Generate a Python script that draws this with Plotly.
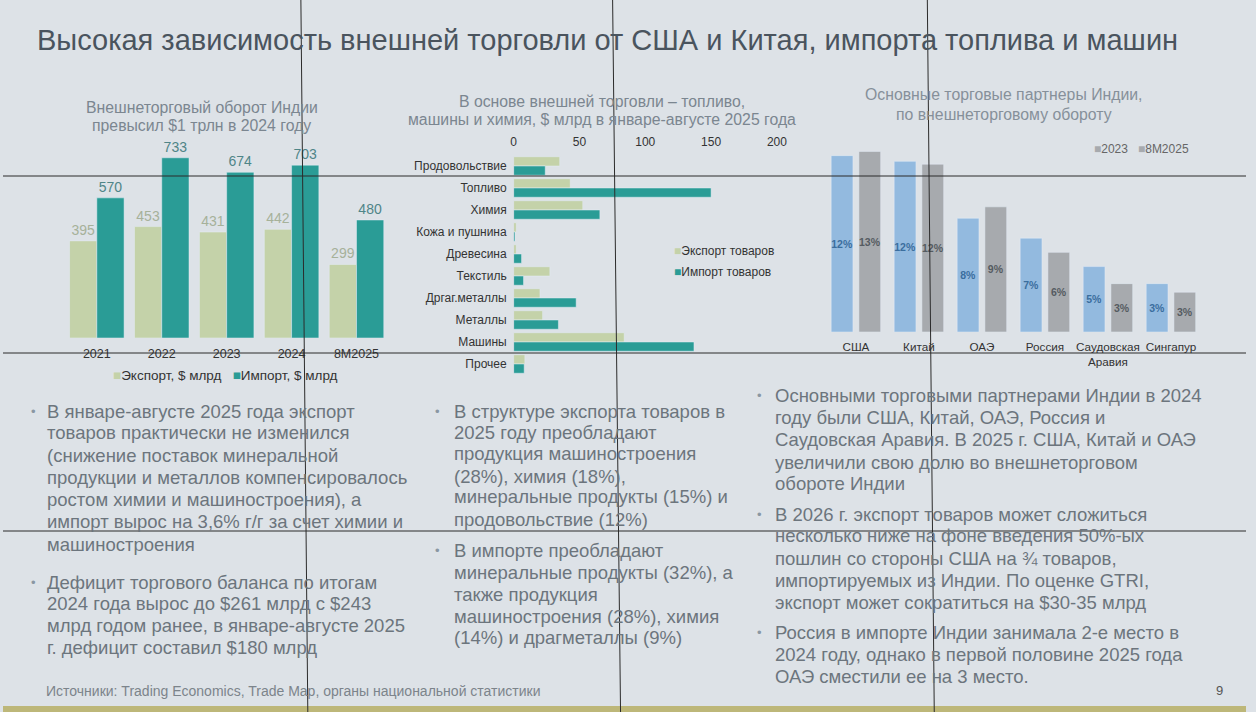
import plotly.graph_objects as go

W, H = 1256, 712

# ---------- data ----------
years = ["2021", "2022", "2023", "2024", "8M2025"]
export_total = [395, 453, 431, 442, 299]
import_total = [570, 733, 674, 703, 480]

goods = ["Продовольствие", "Топливо", "Химия", "Кожа и пушнина", "Древесина",
         "Текстиль", "Дргаг.металлы", "Металлы", "Машины", "Прочее"]
export_goods = [35, 43, 52.5, 2, 2, 27.5, 20, 22, 84, 8.5]
import_goods = [24, 150, 65.5, 1, 6, 7.5, 47.5, 34, 137, 8]

partners = ["США", "Китай", "ОАЭ", "Россия", "Саудовская<br>Аравия", "Сингапур"]
share_2023 = [12.4, 12.0, 8.0, 6.6, 4.6, 3.4]
share_8m2025 = [12.7, 11.8, 8.8, 5.6, 3.4, 2.8]

# ---------- helpers ----------
def X(p):
    return p / W

def Y(p):
    return 1 - p / H

FONT = "Liberation Sans, Arial, sans-serif"
C_EXP = "#c4d2a9"
C_IMP = "#2a9c96"
C_BLUE = "#93badf"
C_GRAY = "#a7aaae"
TXT = "#6c757d"

fig = go.Figure()

# chart 1
fig.add_trace(go.Bar(x=years, y=export_total, marker_color=C_EXP, text=export_total,
                     textposition="outside", constraintext="none", cliponaxis=False,
                     textfont=dict(color="#a6b19a", size=14, family=FONT),
                     xaxis="x", yaxis="y", showlegend=False))
fig.add_trace(go.Bar(x=years, y=import_total, marker_color=C_IMP, text=import_total,
                     textposition="outside", constraintext="none", cliponaxis=False,
                     textfont=dict(color="#4f8588", size=14, family=FONT),
                     xaxis="x", yaxis="y", showlegend=False))

# chart 2
fig.add_trace(go.Bar(y=goods, x=export_goods, orientation="h", marker_color=C_EXP,
                     xaxis="x2", yaxis="y2", showlegend=False))
fig.add_trace(go.Bar(y=goods, x=import_goods, orientation="h", marker_color=C_IMP,
                     xaxis="x2", yaxis="y2", showlegend=False))

# chart 3
fig.add_trace(go.Bar(x=partners, y=share_2023, marker_color=C_BLUE, offset=-0.393, width=0.346,
                     texttemplate="%{y:.0f}%", textposition="inside", insidetextanchor="middle",
                     textangle=0, constraintext="none",
                     textfont=dict(color="#3b6e9e", size=10.5, family=FONT, weight="bold"),
                     xaxis="x3", yaxis="y3", showlegend=False))
fig.add_trace(go.Bar(x=partners, y=share_8m2025, marker_color=C_GRAY, offset=0.047, width=0.346,
                     texttemplate="%{y:.0f}%", textposition="inside", insidetextanchor="middle",
                     textangle=0, constraintext="none",
                     textfont=dict(color="#555b61", size=10.5, family=FONT, weight="bold"),
                     xaxis="x3", yaxis="y3", showlegend=False))

ann = []

def txt(x, y, s, size, color, xanchor="left", yanchor="middle", **kw):
    ann.append(dict(x=X(x), y=Y(y), xref="paper", yref="paper", text=s, showarrow=False,
                    xanchor=xanchor, yanchor=yanchor, align=kw.pop("align", "left"),
                    font=dict(size=size, color=color, family=FONT, **kw)))

# main title
txt(32, 40, "Высокая зависимость внешней торговли от США и Китая, импорта топлива и машин",
    29, "#4a545e")

# chart titles
TC = "#7b8690"
txt(201, 107, "Внешнеторговый оборот Индии", 15.8, TC, xanchor="center")
txt(201, 126, "превысил $1 трлн в 2024 году", 15.8, TC, xanchor="center")
txt(605, 102, "В основе внешней торговли – топливо,", 15.8, TC, xanchor="center")
txt(605, 120, "машины и химия, $ млрд в январе-августе 2025 года", 15.8, TC, xanchor="center")
txt(1011, 95, "Основные торговые партнеры Индии,", 15.8, "#86909a", xanchor="center")
txt(1011, 114, "по внешнеторговому обороту", 15.8, "#86909a", xanchor="center")

# legends
sq = lambda c: f"<span style='color:{c}'>■</span>"
txt(225, 376, f"{sq(C_EXP)}Экспорт, $ млрд   {sq(C_IMP)}Импорт, $ млрд", 13.5, "#333", xanchor="center")
txt(676, 251, f"{sq(C_EXP)}Экспорт товаров", 12, "#333")
txt(676, 272, f"{sq(C_IMP)}Импорт товаров", 12, "#333")
txt(1100, 149, f"{sq(C_GRAY)}2023   {sq(C_GRAY)}8M2025", 12, "#666")

# text blocks
blocks = [
    (26, 42, [411, 433, 455, 477, 499, 521, 544], [
        "В январе-августе 2025 года экспорт",
        "товаров практически не изменился",
        "(снижение поставок минеральной",
        "продукции и металлов компенсировалось",
        "ростом химии и машиностроения), а",
        "импорт вырос на 3,6% г/г за счет химии и",
        "машиностроения"]),
    (26, 42, [582, 603, 625, 647], [
        "Дефицит торгового баланса по итогам",
        "2024 года вырос до $261 млрд с $243",
        "млрд годом ранее, в январе-августе 2025",
        "г. дефицит составил $180 млрд"]),
    (435, 454, [411, 433, 454, 476, 497, 519], [
        "В структуре экспорта товаров в",
        "2025 году преобладают",
        "продукция машиностроения",
        "(28%), химия (18%),",
        "минеральные продукты (15%) и",
        "продовольствие (12%)"]),
    (435, 454, [550, 572, 594, 616, 637], [
        "В импорте преобладают",
        "минеральные продукты (32%), а",
        "также продукция",
        "машиностроения (28%), химия",
        "(14%) и драгметаллы (9%)"]),
    (760, 778, [395, 417, 439, 462, 483], [
        "Основными торговыми партнерами Индии в 2024",
        "году были США, Китай, ОАЭ, Россия и",
        "Саудовская Аравия. В 2025 г. США, Китай и ОАЭ",
        "увеличили свою долю во внешнеторговом",
        "обороте Индии"]),
    (760, 778, [514, 535, 558, 580, 602], [
        "В 2026 г. экспорт товаров может сложиться",
        "несколько ниже на фоне введения 50%-ых",
        "пошлин со стороны США на ¾ товаров,",
        "импортируемых из Индии. По оценке GTRI,",
        "экспорт может сократиться на $30-35 млрд"]),
    (760, 778, [632, 654, 676], [
        "Россия в импорте Индии занимала 2-е место в",
        "2024 году, однако в первой половине 2025 года",
        "ОАЭ сместили ее на 3 место."]),
]
for bx, tx, ys, lines in blocks:
    txt(bx, ys[0], "•", 13, "#8a97a3")
    for y, s in zip(ys, lines):
        txt(tx, y, s, 18.5, TXT)

txt(41, 691, "Источники: Trading Economics, Trade Map, органы национальной статистики", 14, "#7c848b")
txt(1229, 690, "9", 13, "#555", xanchor="center")

# overlay grid lines seen on the photo + bottom strip
shapes = []
for x0, x1 in [(301, 308), (616, 624), (934, 941)]:
    shapes.append(dict(type="line", xref="paper", yref="paper", x0=X(x0), x1=X(x1), y0=1, y1=0,
                       line=dict(color="#2b2b2b", width=1)))
for y in [176, 353, 531]:
    shapes.append(dict(type="line", xref="paper", yref="paper", x0=0, x1=1, y0=Y(y), y1=Y(y),
                       line=dict(color="#2b2b2b", width=1)))
shapes.append(dict(type="rect", xref="paper", yref="paper", x0=0, x1=1, y0=Y(712), y1=Y(706),
                   fillcolor="#bdb779", line=dict(width=0), layer="below"))

fig.update_layout(
    width=W, height=H,
    margin=dict(l=0, r=0, t=0, b=0, pad=0),
    paper_bgcolor="#dde2e7", plot_bgcolor="rgba(0,0,0,0)",
    barmode="group", bargap=0.16, bargroupgap=0,
    font=dict(family=FONT, color="#333"),
    annotations=ann, shapes=shapes,
    xaxis=dict(domain=[X(62), X(390)], anchor="y", showgrid=False, showline=False, zeroline=False,
               ticks="", ticklabelstandoff=6, tickfont=dict(size=12.5, color="#333")),
    yaxis=dict(domain=[Y(338), Y(129)], anchor="x", range=[0, 850], visible=False),
    xaxis2=dict(domain=[X(516), X(782)], anchor="y2", side="top", range=[0, 200],
                tickvals=[0, 50, 100, 150, 200], showgrid=False, zeroline=False, showline=False,
                ticks="", ticklabelstandoff=6, tickfont=dict(size=12, color="#333")),
    yaxis2=dict(domain=[Y(375), Y(155)], anchor="x2", autorange="reversed", showgrid=False,
                zeroline=False, ticks="", ticklabelstandoff=6, tickfont=dict(size=12, color="#333")),
    xaxis3=dict(domain=[X(830), X(1212)], anchor="y3", showgrid=False, zeroline=False, showline=False,
                ticks="", ticklabelstandoff=6, tickfont=dict(size=11.7, color="#333")),
    yaxis3=dict(domain=[Y(332), Y(140)], anchor="x3", range=[0, 13.5], visible=False),
)

fig.write_html("out.html", config={"displayModeBar": False},
               post_script="document.body.style.margin='0';document.body.style.background='#dde2e7';")
